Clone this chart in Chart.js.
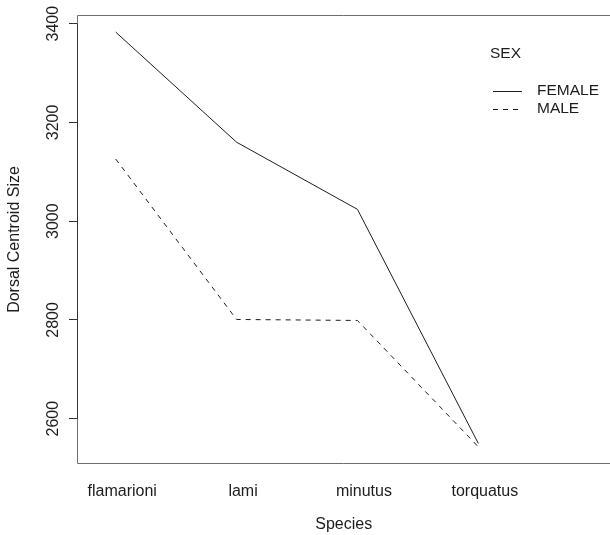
<!DOCTYPE html>
<html>
<head>
<meta charset="utf-8">
<script src="https://cdn.jsdelivr.net/npm/chart.js@4/dist/chart.umd.min.js"></script>
<style>
  html, body { margin: 0; padding: 0; background: #fff; }
  #wrap { width: 610px; height: 535px; }
</style>
</head>
<body>
<div id="wrap"><canvas id="graph"></canvas></div>
<script>
// species on the x axis (positions 1..4)
const species = ['flamarioni', 'lami', 'minutus', 'torquatus']
// mean dorsal centroid size per sex
const female = [3383, 3160, 3024, 2550]
const male = [3126, 2801, 2799, 2543]
const yTicks = [2600, 2800, 3000, 3200, 3400]
const legendTitle = 'SEX'
const legendLabels = ['FEMALE', 'MALE']

const ink = '#1c1c1c'
const boxGrey = '#6e6e6e'
const font = "'Liberation Sans', Arial, Helvetica, sans-serif"

// box round the plot (right side is cut off by the picture edge),
// the R style axis segment and the legend
const framePlugin = {
    id: 'frame',
    afterDraw(chart) {
        const {ctx, chartArea: a, scales} = chart
        ctx.save()
        ctx.strokeStyle = boxGrey
        ctx.lineWidth = 1
        ctx.beginPath()
        ctx.moveTo(chart.width, a.top)
        ctx.lineTo(a.left, a.top)
        ctx.lineTo(a.left, a.bottom)
        ctx.lineTo(chart.width, a.bottom)
        ctx.stroke()
        // y axis line only between first and last tick
        const y = scales.y
        ctx.strokeStyle = '#333'
        ctx.beginPath()
        ctx.moveTo(a.left, y.getPixelForValue(yTicks[0]))
        ctx.lineTo(a.left, y.getPixelForValue(yTicks[yTicks.length - 1]))
        ctx.stroke()

        // legend
        ctx.fillStyle = ink
        ctx.font = '15.5px ' + font
        ctx.textBaseline = 'middle'
        ctx.textAlign = 'left'
        ctx.fillText(legendTitle, 490, 54)
        const rows = [91, 109]
        const dashes = [[], [5, 5]]
        rows.forEach((ry, i) => {
            ctx.strokeStyle = ink
            ctx.setLineDash(dashes[i])
            ctx.beginPath()
            ctx.moveTo(493, ry + 0.5)
            ctx.lineTo(522, ry + 0.5)
            ctx.stroke()
            ctx.setLineDash([])
            ctx.fillText(legendLabels[i], 537, ry)
        })
        ctx.restore()
    }
}

const ctx = document.getElementById('graph')
new Chart(ctx, {
    type: 'line',
    data: {
        datasets: [
            {
                label: legendLabels[0],
                data: female.map((v, i) => ({x: i + 1, y: v})),
                borderColor: ink,
                borderWidth: 1,
                pointRadius: 0,
                tension: 0
            },
            {
                label: legendLabels[1],
                data: male.map((v, i) => ({x: i + 1, y: v})),
                borderColor: ink,
                borderWidth: 1,
                borderDash: [5, 5],
                pointRadius: 0,
                tension: 0
            }
        ]
    },
    options: {
        responsive: true,
        maintainAspectRatio: false,
        animation: false,
        layout: {padding: {left: 0, top: 15.5, right: 0, bottom: 0}},
        plugins: {
            legend: {display: false},
            tooltip: {enabled: false}
        },
        scales: {
            x: {
                type: 'linear',
                min: 0.684,
                max: 5.0895,
                grid: {display: false, drawTicks: false},
                border: {display: false},
                afterBuildTicks: (s) => { s.ticks = species.map((n, i) => ({value: i + 1})) },
                afterFit: (s) => { s.height = 71.5; s.paddingLeft = 0; s.paddingRight = 0 },
                ticks: {
                    autoSkip: false,
                    maxRotation: 0,
                    padding: 18,
                    labelOffset: 6.5,
                    color: ink,
                    font: {family: font, size: 16},
                    callback: (v) => species[v - 1] || ''
                },
                title: {
                    display: true,
                    text: 'Species',
                    color: ink,
                    font: {family: font, size: 16},
                    padding: {top: 0, bottom: 0.5}
                }
            },
            y: {
                min: 2509.3,
                max: 3416.6,
                grid: {drawOnChartArea: false, tickLength: 8.5, color: '#333'},
                border: {display: false},
                afterBuildTicks: (s) => { s.ticks = yTicks.map(v => ({value: v})) },
                afterFit: (s) => { s.width = 77.5; s.paddingTop = 0; s.paddingBottom = 0 },
                ticks: {
                    autoSkip: false,
                    minRotation: 90,
                    maxRotation: 90,
                    crossAlign: 'center',
                    padding: -2.5,
                    color: ink,
                    font: {family: font, size: 16},
                    callback: (v) => String(v)
                },
                title: {
                    display: true,
                    text: 'Dorsal Centroid Size',
                    color: ink,
                    font: {family: font, size: 16},
                    padding: {top: 5.4, bottom: 0}
                }
            }
        }
    },
    plugins: [framePlugin]
})
</script>
</body>
</html>
